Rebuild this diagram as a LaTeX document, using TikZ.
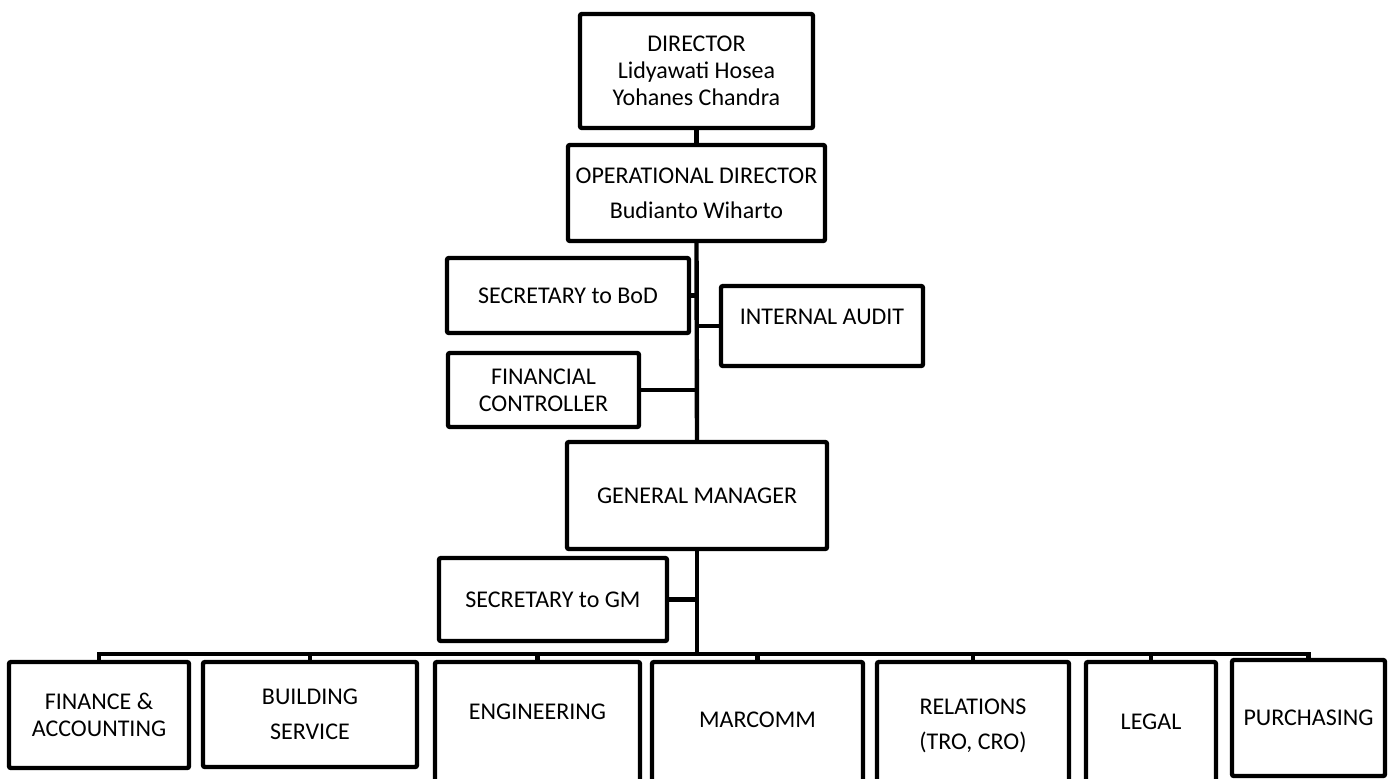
\documentclass[tikz,border=0pt]{standalone}
\usepackage{fontspec}
\setmainfont{Carlito}
\begin{document}
\begin{tikzpicture}[x=0.5pt, y=-0.5pt,
    orgbox/.style={draw, line width=2.2pt, rounded corners=1pt, align=center, inner sep=0.5pt,
      font=\fontsize{12}{13.5}\selectfont},
    link/.style={line width=2.2pt}]
  \clip (0,0) rectangle (1394,778);
  % board and directors
  \node[orgbox, minimum width=116.5pt, minimum height=57pt] (dir) at (696.5,71) {DIRECTOR\\Lidyawati Hosea\\Yohanes Chandra};
  \node[orgbox, minimum width=128.5pt, minimum height=48pt] (opd) at (696.5,193) {OPERATIONAL DIRECTOR\\[4pt]Budianto Wiharto};
  % staff around the operational director
  \node[orgbox, minimum width=121pt, minimum height=37.5pt] (secbod) at (568,295.5) {SECRETARY to BoD};
  \node[orgbox, minimum width=101pt, minimum height=40pt, text depth=9pt] (audit) at (822,326) {INTERNAL AUDIT};
  \node[orgbox, minimum width=95.5pt, minimum height=37pt] (finctl) at (543.5,390) {FINANCIAL\\CONTROLLER};
  % general manager
  \node[orgbox, minimum width=130pt, minimum height=53.5pt] (gm) at (697,495.5) {GENERAL MANAGER};
  \node[orgbox, minimum width=114pt, minimum height=41.5pt] (secgm) at (553,599.5) {SECRETARY to GM};
  % departments
  \node[orgbox, minimum width=90pt, minimum height=53pt] (fin) at (99,715) {FINANCE \&\\ACCOUNTING};
  \node[orgbox, minimum width=107pt, minimum height=52.5pt] (bld) at (310,714.5) {BUILDING\\[4pt]SERVICE};
  \node[orgbox, minimum width=102.5pt, minimum height=64pt, text depth=14pt] (eng) at (537.5,726) {ENGINEERING};
  \node[orgbox, minimum width=105.5pt, minimum height=64pt, text depth=6pt] (mar) at (757.5,726) {MARCOMM};
  \node[orgbox, minimum width=96pt, minimum height=64pt] (rel) at (973,726) {RELATIONS\\[4pt](TRO, CRO)};
  \node[orgbox, minimum width=65pt, minimum height=64pt, text depth=4pt] (leg) at (1151,726) {LEGAL};
  \node[orgbox, minimum width=76.5pt, minimum height=58pt] (pur) at (1308.5,718) {PURCHASING};
  % reporting lines
  \draw[link] (dir.south) -- (opd.north);
  \draw[link] (opd.south) -- (gm.north);
  \draw[link] (secbod.east) -- (secbod.east -| opd.south);
  \draw[link] (audit.west) -- (audit.west -| opd.south);
  \draw[link] (finctl.east) -- (finctl.east -| opd.south);
  \draw[link] (secgm.east) -- (secgm.east -| gm.south);
  \coordinate (bar) at (697,654);
  \draw[link] (gm.south) -- (bar);
  \draw[link] (fin.north) -- (fin.north |- bar) -- (pur.north |- bar) -- (pur.north);
  \foreach \d in {bld, eng, mar, rel, leg}
    \draw[link] (\d.north) -- (\d.north |- bar);
\end{tikzpicture}
\end{document}
